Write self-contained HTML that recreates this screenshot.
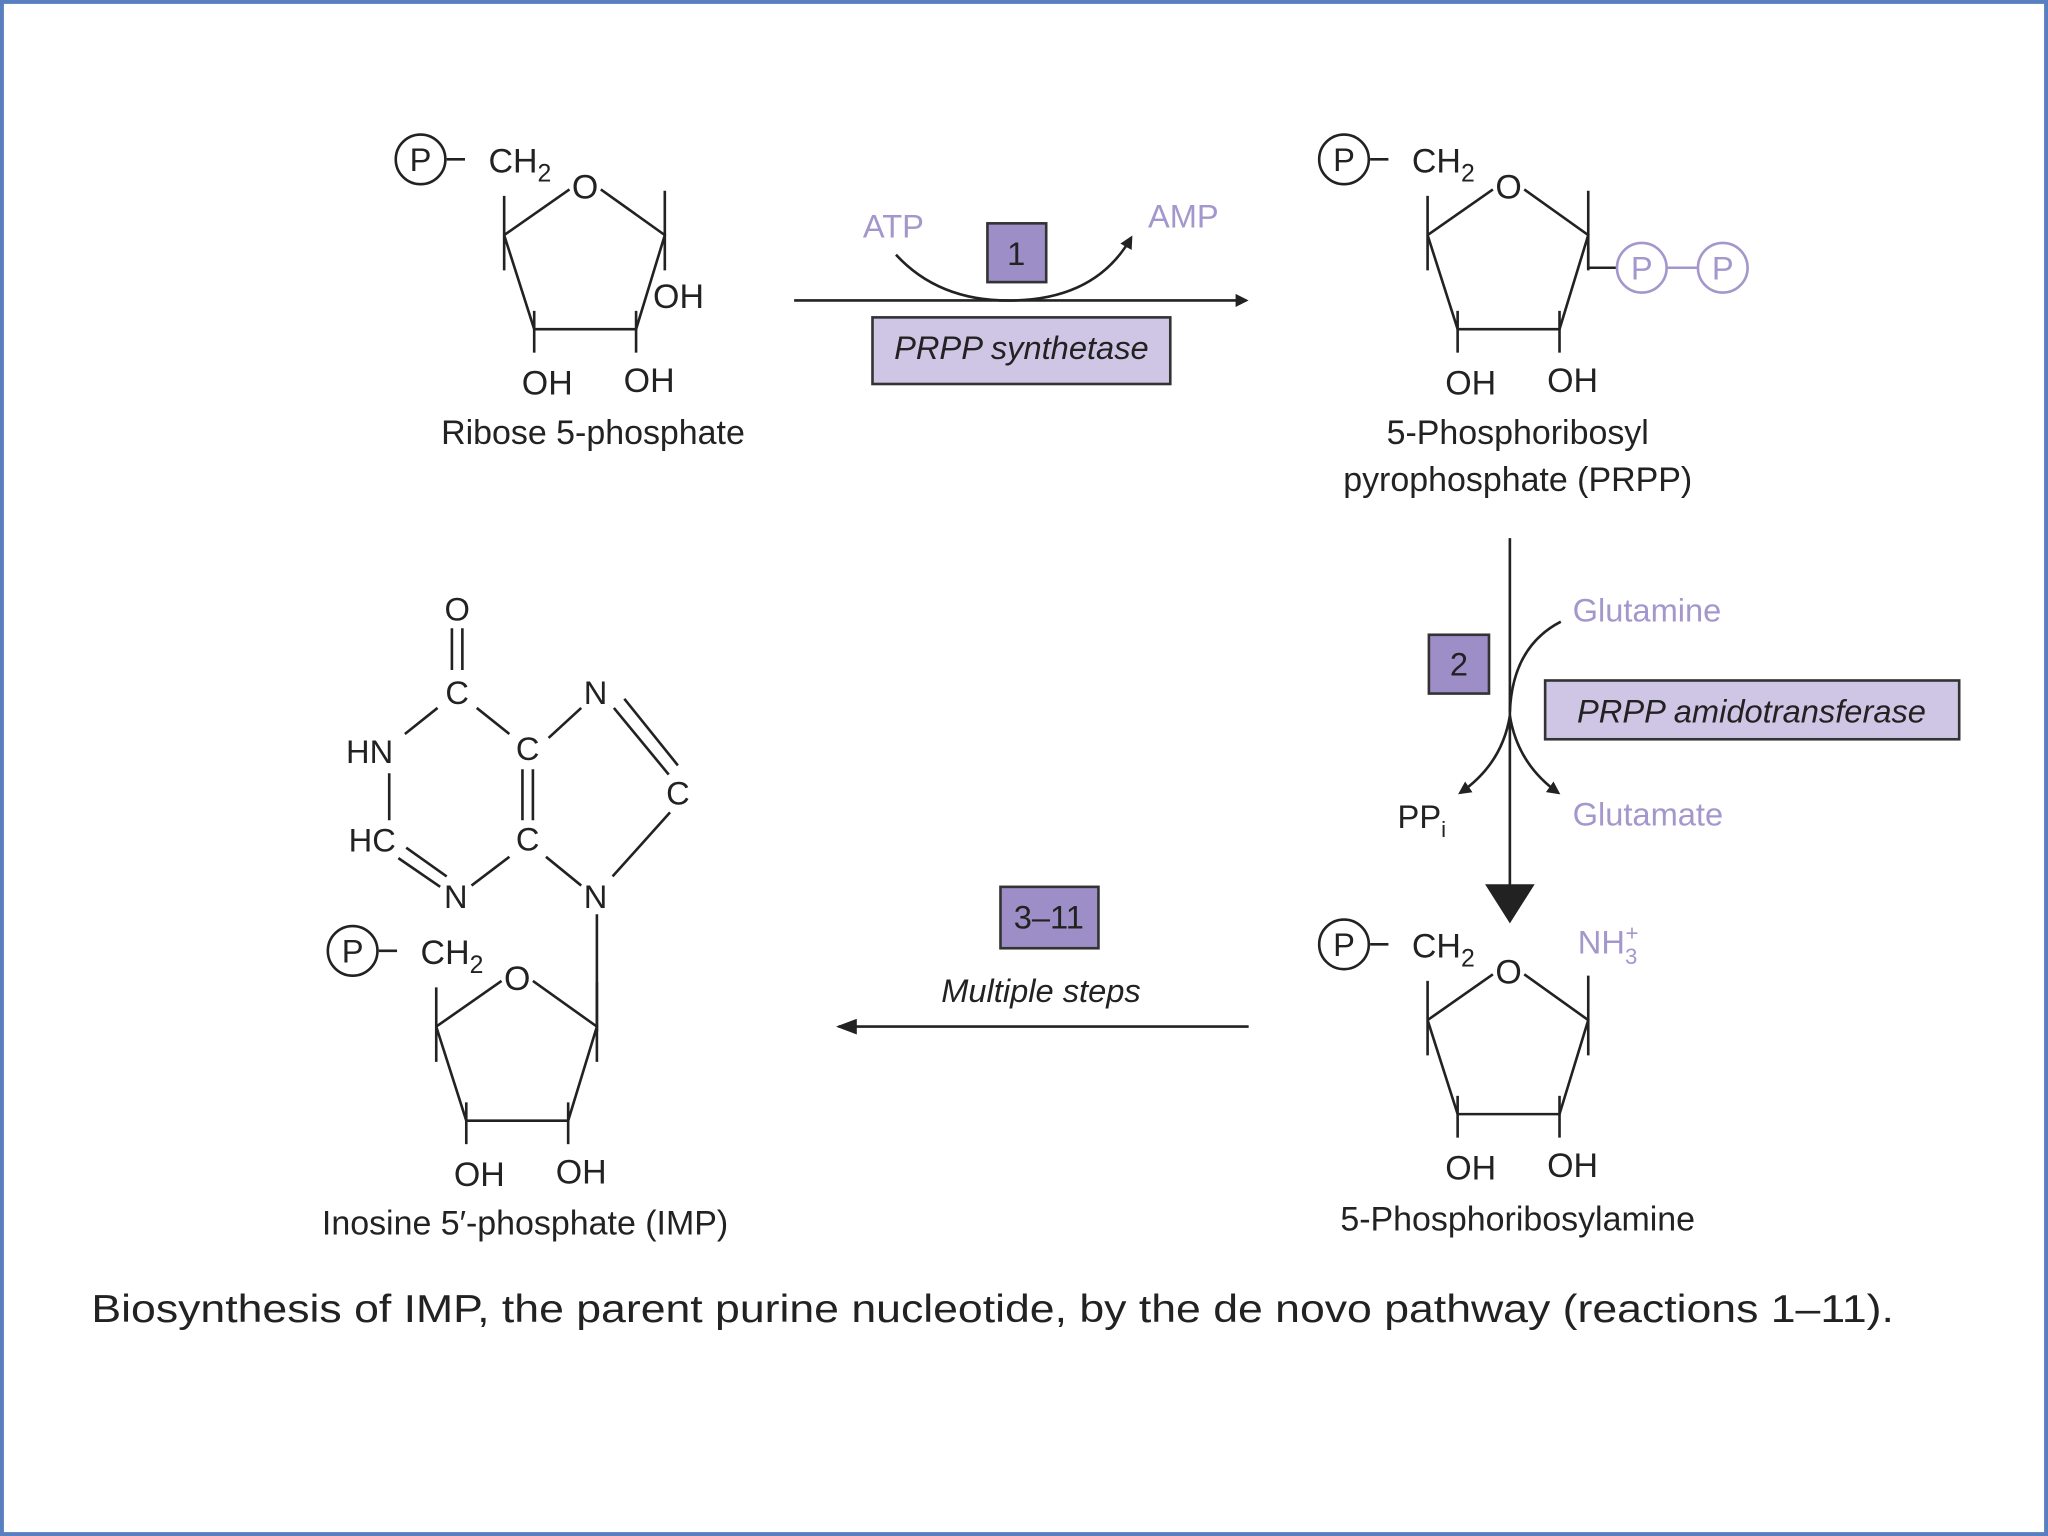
<!DOCTYPE html>
<html><head><meta charset="utf-8"><style>
html,body{margin:0;padding:0;background:#fff}
svg{display:block}
text{font-family:"Liberation Sans",sans-serif;fill:#222}
.l{fill:#a497cc}
.b{stroke:#222;stroke-width:2;fill:none}
.bl{stroke:#a497cc;stroke-width:2;fill:none}
</style></head><body>
<svg width="2048" height="1536" viewBox="0 0 1568 1176" preserveAspectRatio="none" xmlns="http://www.w3.org/2000/svg">
<defs>
<marker id="ah" markerWidth="10" markerHeight="10" refX="8" refY="5" orient="auto" markerUnits="userSpaceOnUse"><path d="M0,0 L10,5 L0,10 z" fill="#222"/></marker>
<marker id="ah2" markerWidth="16" markerHeight="12" refX="14" refY="6" orient="auto" markerUnits="userSpaceOnUse"><path d="M0,0 L16,6 L0,12 z" fill="#222"/></marker>
<g id="ring">
<circle cx="0" cy="0" r="19" class="b"/>
<text x="0" y="9" font-size="25" text-anchor="middle">P</text>
<line x1="20" y1="0" x2="34" y2="0" class="b"/>
<text x="52" y="10" font-size="26">CH<tspan font-size="19" dy="7">2</tspan></text>
<text x="126" y="30" font-size="26" text-anchor="middle">O</text>
<path d="M64,58 L114,23 M138,23 L187,58 L165,130 L87,130 L64,58" class="b"/>
<line x1="64" y1="28" x2="64" y2="85" class="b"/>
<line x1="187" y1="24" x2="187" y2="85" class="b"/>
<line x1="87" y1="116" x2="87" y2="148" class="b"/>
<line x1="165" y1="116" x2="165" y2="148" class="b"/>
<text x="97" y="180" font-size="26" text-anchor="middle">OH</text>
<text x="175" y="178" font-size="26" text-anchor="middle">OH</text>
</g>
</defs>
<rect x="1.5" y="1.5" width="1565" height="1173" fill="none" stroke="#5a7fc0" stroke-width="3"/>

<use href="#ring" x="322" y="122"/>
<text x="500" y="236" font-size="26">OH</text>
<text x="454" y="340" font-size="26" text-anchor="middle">Ribose 5-phosphate</text>

<line x1="608" y1="230" x2="954" y2="230" class="b" marker-end="url(#ah)"/>
<text x="684" y="182" font-size="25" class="l" text-anchor="middle">ATP</text>
<text x="906" y="174" font-size="25" class="l" text-anchor="middle">AMP</text>
<path d="M686,195 Q720,232 778,230 Q840,228 866,182" class="b" marker-end="url(#ah)"/>
<rect x="756" y="171" width="45" height="45" fill="#9d8ec7" stroke="#333" stroke-width="2"/>
<text x="778" y="203" font-size="25" text-anchor="middle">1</text>
<rect x="668" y="243" width="228" height="51" fill="#cfc6e6" stroke="#333" stroke-width="2"/>
<text x="782" y="275" font-size="25" font-style="italic" text-anchor="middle">PRPP synthetase</text>

<use href="#ring" x="1029" y="122"/>
<path d="M1216,190 L1216,205 L1238,205" class="b"/>
<circle cx="1257" cy="205" r="19" class="bl"/>
<text x="1257" y="214" font-size="25" class="l" text-anchor="middle">P</text>
<line x1="1276" y1="205" x2="1300" y2="205" class="bl"/>
<circle cx="1319" cy="205" r="19" class="bl"/>
<text x="1319" y="214" font-size="25" class="l" text-anchor="middle">P</text>
<text x="1162" y="340" font-size="26" text-anchor="middle">5-Phosphoribosyl</text>
<text x="1162" y="376" font-size="26" text-anchor="middle">pyrophosphate (PRPP)</text>

<line x1="1156" y1="412" x2="1156" y2="680" class="b"/>
<path d="M1137,677 L1175,677 L1156,707 Z" fill="#222"/>
<text x="1204" y="476" font-size="25" class="l">Glutamine</text>
<path d="M1195,476 Q1158,495 1156,545" class="b"/>
<path d="M1156,548 Q1150,585 1118,607" class="b" marker-end="url(#ah)"/>
<path d="M1156,548 Q1162,585 1193,607" class="b" marker-end="url(#ah)"/>
<rect x="1094" y="486" width="46" height="45" fill="#9d8ec7" stroke="#333" stroke-width="2"/>
<text x="1117" y="517" font-size="25" text-anchor="middle">2</text>
<rect x="1183" y="521" width="317" height="45" fill="#cfc6e6" stroke="#333" stroke-width="2"/>
<text x="1341" y="553" font-size="25" font-style="italic" text-anchor="middle">PRPP amidotransferase</text>
<text x="1070" y="634" font-size="25">PP<tspan font-size="17" dy="7">i</tspan></text>
<text x="1204" y="632" font-size="25" class="l">Glutamate</text>

<use href="#ring" x="1029" y="723"/>
<text x="1208" y="730" font-size="25" class="l">NH<tspan font-size="17" dy="8">3</tspan><tspan font-size="17" dx="-9" dy="-18">+</tspan></text>
<text x="1162" y="942" font-size="26" text-anchor="middle">5-Phosphoribosylamine</text>

<line x1="956" y1="786" x2="642" y2="786" class="b" marker-end="url(#ah2)"/>
<rect x="766" y="679" width="75" height="47" fill="#9d8ec7" stroke="#333" stroke-width="2"/>
<text x="803" y="711" font-size="25" text-anchor="middle">3–11</text>
<text x="797" y="767" font-size="25" font-style="italic" text-anchor="middle">Multiple steps</text>

<use href="#ring" x="270" y="728"/>
<line x1="457" y1="700" x2="457" y2="790" class="b"/>
<g font-size="25" text-anchor="middle">
<text x="350" y="475">O</text>
<text x="350" y="539">C</text>
<text x="283" y="584">HN</text>
<text x="404" y="582">C</text>
<text x="456" y="539">N</text>
<text x="519" y="616">C</text>
<text x="404" y="651">C</text>
<text x="285" y="652">HC</text>
<text x="349" y="695">N</text>
<text x="456" y="695">N</text>
</g>
<path d="M346,481 V513 M354,481 V513 M335,542 L310,562 M365,542 L390,562 M420,565 L445,542 M470,542 L512,593 M478,535 L519,586 M513,622 L469,671 M298,592 V628 M400,589 V628 M408,589 V628 M305,657 L337,679 M311,649 L342,671 M361,678 L390,656 M418,656 L445,678" class="b"/>
<text x="402" y="945" font-size="26" text-anchor="middle">Inosine 5′-phosphate (IMP)</text>

<text x="70" y="1012" font-size="30" fill="#111" textLength="1380" lengthAdjust="spacingAndGlyphs">Biosynthesis of IMP, the parent purine nucleotide, by the de novo pathway (reactions 1–11).</text>
</svg>
</body></html>
